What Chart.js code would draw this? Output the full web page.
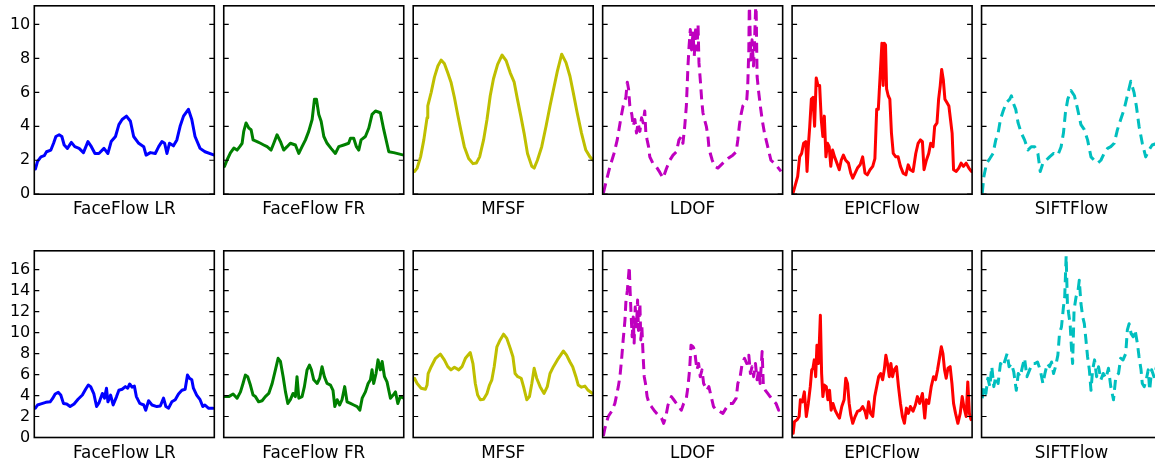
<!DOCTYPE html>
<html><head><meta charset="utf-8">
<script src="https://cdn.jsdelivr.net/npm/chart.js@4/dist/chart.umd.min.js"></script>
<style>
html,body{margin:0;padding:0;background:#fff;overflow:hidden;width:1155px;height:463px;position:relative}
canvas{position:absolute}
</style></head><body>
<script>
// ---- data: [frame (0-100), error] ----
const methods = ['FaceFlow LR','FaceFlow FR','MFSF','LDOF','EPICFlow','SIFTFlow'];
const colors = ['#0000ff','#008000','#bfbf00','#bf00bf','#ff0000','#00bfbf'];
const dashed = [false,false,false,true,false,true];
const rowMax = [11.1, 17.8];
const ticksTop = [0,2,4,6,8,10];
const ticksBottom = [0,2,4,6,8,10,12,14,16];

const lrTop = [[0.6,1.48],[1.8,1.93],[3.7,2.2],[5.5,2.27],[6.8,2.5],[9.2,2.6],[10.7,3.0],[12,3.4],[13.8,3.5],[15.3,3.4],[16.6,2.9],[18.4,2.7],[20.6,3.05],[22.5,2.8],[24.9,2.7],[27.3,2.45],[29.8,3.1],[31.7,2.8],[33.7,2.4],[35.9,2.4],[38.7,2.7],[40.9,2.4],[42.7,3.1],[45.1,3.4],[47,4.1],[48.8,4.4],[51.2,4.6],[53.4,4.3],[55.2,3.4],[58,3.0],[60.8,2.8],[62.1,2.3],[64.5,2.45],[67.2,2.4],[69.1,2.8],[70.9,3.1],[72.4,3.0],[73.7,2.4],[75.1,3.0],[77.3,2.85],[79.2,3.2],[81,4.0],[82.9,4.6],[85.6,5.0],[87.5,4.4],[89.3,3.4],[92.1,2.7],[94.8,2.5],[100,2.3]];
const frTop = [[0.4,1.64],[1.9,2.03],[3.7,2.43],[5.6,2.72],[7.4,2.6],[8.9,2.8],[10.2,3.0],[11.1,3.7],[12.4,4.2],[13.9,3.9],[15.2,3.8],[16.3,3.2],[18.5,3.1],[20.4,3.0],[22.2,2.9],[24.1,2.8],[26.3,2.6],[27.8,3.0],[29.6,3.5],[31.5,3.1],[33.3,2.6],[35.2,2.8],[37,3.0],[39.8,2.9],[41.7,2.4],[43.5,2.8],[45.4,3.2],[47.2,3.7],[49.1,4.4],[50.4,5.6],[51.5,5.6],[52.8,4.7],[54.1,4.3],[55.6,3.4],[57.4,3.0],[59.6,2.7],[62,2.4],[63.9,2.8],[66.7,2.9],[69.4,3.0],[70.4,3.3],[72.2,3.3],[73.7,2.8],[75,2.6],[76.3,3.2],[78.7,3.4],[80.6,3.9],[82.4,4.7],[84.3,4.9],[87,4.8],[88.9,3.8],[91.7,2.5],[94.4,2.45],[100,2.3]];
const mfsfTop = [[0.7,1.34],[2.2,1.54],[4.1,2.2],[5.9,3.2],[7.7,4.5],[8.1,5.2],[10,6.0],[11.8,6.9],[13.7,7.55],[15.5,7.9],[17.3,7.7],[19.2,7.15],[21,6.6],[22.9,5.7],[24.7,4.7],[26.6,3.7],[28.4,2.8],[30.8,2.1],[33.2,1.8],[35.1,1.84],[36.9,2.2],[39.1,3.2],[41,4.4],[42.8,5.8],[44.6,6.8],[46.9,7.65],[49.4,8.2],[51.7,7.85],[53.9,7.15],[56.1,6.6],[57.9,5.6],[59.8,4.6],[61.6,3.6],[63.5,2.4],[65.9,1.64],[67.2,1.54],[69,2.0],[71.4,2.8],[73.8,4.0],[76,5.2],[78.2,6.3],[80.1,7.25],[82.5,8.25],[84.9,7.75],[87.1,6.95],[88.9,6.0],[91.1,4.8],[93.5,3.6],[95.9,2.6],[98.2,2.2],[100,2.0]];
const ldofTop = [[0.4,0.06],[2.2,0.85],[4.1,1.64],[6.3,2.4],[8.1,3.2],[10,4.4],[11.4,5.2],[12.9,5.7],[13.7,6.6],[14.4,6.2],[15.1,5.2],[16.2,4.7],[17,4.0],[17.9,4.4],[18.8,3.6],[19.7,4.2],[20.7,3.7],[21.6,4.5],[22.5,4.2],[23.4,4.9],[24,3.6],[24.7,3.2],[25.5,2.8],[26.2,2.2],[28,1.8],[29.9,1.6],[31.7,1.3],[33.6,0.95],[35.4,1.5],[37.3,2.0],[39.1,2.3],[41,2.5],[42.4,3.2],[43.7,3.4],[44.6,3.0],[45.6,4.0],[46.5,5.2],[47.4,7.55],[48,8.7],[48.7,9.7],[49.4,8.5],[50.2,9.5],[50.9,8.15],[51.7,9.9],[52.4,8.5],[53,10.0],[53.5,7.75],[54.2,6.8],[55,5.6],[55.7,4.8],[56.6,4.4],[57.6,4.0],[58.5,3.4],[59,2.8],[59.8,2.4],[60.9,2.0],[62.2,1.64],[64,1.54],[66.8,1.83],[69.6,2.1],[72.3,2.3],[74.2,2.5],[75.1,3.2],[76,4.1],[76.9,4.7],[77.9,5.2],[79.3,5.4],[80.1,5.6],[80.6,6.4],[81.2,8.5],[81.5,11.5],[82.3,7.9],[83,9.1],[83.8,7.55],[84.3,8.7],[84.9,10.7],[85.2,11.5],[85.8,6.95],[86.7,6.0],[87.6,5.2],[88.6,4.4],[89.9,3.6],[91.7,2.8],[93.5,2.0],[96.3,1.73],[99.1,1.34]];
const epicTop = [[0.6,0.1],[1.8,0.55],[3.1,1.05],[4.2,2.2],[5.3,2.4],[6.4,3.0],[7.6,3.1],[8.3,1.34],[9,2.8],[9.8,4.0],[10.7,5.6],[11.6,5.7],[12.5,4.0],[13.4,6.85],[14.4,6.4],[15.3,6.4],[16.2,4.4],[17.1,3.4],[17.9,4.6],[18.8,2.2],[19.7,3.0],[20.6,2.8],[21.5,1.64],[22.5,2.6],[23.6,2.2],[24.9,1.83],[26.2,1.44],[27.3,2.0],[28.5,2.3],[29.8,2.0],[31.3,1.83],[32.6,1.24],[33.7,0.95],[35,1.24],[36.3,1.54],[37.8,1.73],[39.2,2.2],[40.5,1.24],[41.8,1.14],[43.3,1.44],[44.8,1.64],[46,2.1],[47,5.0],[47.9,5.0],[48.4,6.0],[49.2,7.55],[49.9,8.9],[50.6,6.4],[51.2,8.9],[51.9,8.8],[52.5,6.2],[53.4,5.8],[54.3,5.6],[55.2,3.6],[56.2,2.4],[57.6,2.2],[58.9,2.2],[60.2,1.64],[61.7,1.24],[63.2,1.14],[64.5,1.73],[65.7,1.44],[67.2,1.34],[68.7,2.4],[70,3.0],[71.3,3.2],[72.4,3.1],[73.3,1.44],[74.6,2.0],[75.9,2.4],[77,3.0],[78.3,2.8],[79.2,4.0],[80.5,4.2],[81.4,5.6],[82.3,6.4],[83.1,7.35],[84,6.75],[84.9,5.6],[86,5.4],[87.1,5.2],[88,4.4],[88.9,3.6],[89.7,1.44],[91.2,1.34],[92.6,1.54],[93.9,1.83],[95.2,1.64],[96.7,1.83],[98.2,1.54],[99.6,1.34]];
const siftTop = [[0.4,0.06],[1.3,1.05],[2.8,1.83],[4.6,2.1],[6.4,2.4],[7.9,3.2],[9.2,3.6],[10.5,4.4],[12,4.9],[13.8,5.4],[15.7,5.6],[16.6,5.8],[17.5,5.4],[19,5.0],[20.3,4.2],[22.1,3.6],[23.9,3.2],[25.8,2.6],[27.6,2.8],[29.5,2.8],[31.3,2.4],[32.6,1.34],[34.1,1.83],[35.9,2.0],[37.8,2.2],[40,2.4],[42.4,2.3],[44.2,2.8],[45.5,3.6],[46.6,4.8],[47.9,5.6],[49.7,6.1],[51.6,5.8],[53.4,5.0],[55.2,4.1],[57.1,3.8],[58.9,3.2],[60.8,2.2],[62.6,2.0],[64.5,1.83],[66.3,2.0],[68.1,2.4],[70,2.7],[71.8,2.8],[73.7,3.0],[75.5,3.8],[77.3,4.4],[79.2,5.0],[81,5.8],[82.9,6.65],[84.7,6.0],[86,5.2],[87.5,4.0],[89.3,3.0],[91.2,2.2],[93,2.6],[94.8,2.9],[97.6,3.0],[100,2.8]];

const lrBottom = [[0.6,2.8],[1.8,3.1],[3.7,3.2],[6.4,3.35],[8.8,3.4],[10.1,3.7],[11.6,4.15],[13.3,4.3],[14.7,4.05],[16.2,3.25],[18,3.2],[19.9,2.95],[22.1,3.2],[24.3,3.65],[26.7,4.05],[28.5,4.6],[30,5.0],[31.3,4.85],[33.1,4.15],[34.6,2.95],[35.9,3.3],[37.8,4.2],[39,3.75],[40.1,4.7],[40.9,3.4],[42.4,4.05],[43.8,3.1],[45.7,3.9],[47,4.5],[48.8,4.6],[50.6,4.85],[51.9,4.7],[53,5.1],[54.3,4.8],[55.6,4.9],[56.7,3.9],[58.6,3.25],[60.8,3.1],[61.9,2.6],[63.5,3.5],[65.4,3.1],[68.1,2.95],[70,3.0],[71.8,3.75],[73.1,2.95],[74.6,2.8],[76.4,3.4],[78.3,3.6],[80.1,4.15],[82,4.5],[83.8,4.6],[85.1,5.95],[86.2,5.65],[87.5,5.5],[88.4,4.7],[90.2,4.05],[92.1,3.6],[93.6,2.95],[94.8,3.1],[96.7,2.8],[99.4,2.8]];
const frBottom = [[0.4,3.9],[2.8,3.9],[5.2,4.15],[7.4,3.75],[9.3,4.35],[10.7,5.15],[12,5.95],[13.3,5.8],[14.8,5.0],[16.3,4.05],[17.6,3.9],[19.4,3.4],[21.3,3.5],[23.1,3.9],[25,4.2],[26.9,5.15],[28.7,6.45],[30.2,7.55],[31.5,7.25],[33,5.8],[34.3,4.35],[35.6,3.25],[37,3.6],[38.5,4.2],[39.8,3.9],[40.7,5.8],[41.7,3.75],[43.5,3.9],[44.8,4.85],[46.3,6.45],[47.6,6.9],[48.7,6.45],[50,5.5],[51.9,5.15],[53.3,5.65],[54.6,6.75],[55.9,5.8],[57.4,5.15],[59.3,5.0],[60.7,4.5],[61.7,2.95],[63,3.6],[64.4,3.1],[65.7,3.6],[67.2,4.85],[68.5,3.4],[70.4,3.25],[72.2,3.1],[74.1,2.95],[75.6,2.6],[76.9,3.75],[78.7,4.35],[80.2,5.15],[81.5,5.5],[82.4,6.45],[83.3,5.15],[84.6,6.1],[85.7,7.4],[87,6.45],[88,7.25],[89.3,5.8],[90.7,5.3],[92.6,3.75],[94.1,4.05],[95.4,4.35],[96.7,3.25],[98.1,3.9],[100,3.75]];
const mfsfBottom = [[0.7,5.65],[2.2,5.15],[4.4,4.7],[6.8,4.6],[7.7,5.0],[8.3,6.1],[10,6.75],[12.4,7.55],[15.1,7.95],[17.3,7.4],[19.2,6.75],[21,6.45],[22.9,6.7],[25.3,6.45],[27.1,6.75],[29,7.55],[31.7,8.1],[33.2,7.05],[34.5,5.15],[35.8,4.05],[37.3,3.6],[39.1,3.65],[41,4.2],[42.4,5.0],[43.7,5.5],[45,6.75],[46.5,8.65],[48.3,9.3],[50.2,9.85],[52,9.45],[53.9,8.5],[55.4,7.7],[56.6,6.1],[58.1,5.8],[60,5.65],[61.3,4.85],[63.1,3.6],[64.6,3.9],[65.9,5.15],[67.2,6.6],[68.6,5.65],[70.5,4.85],[72.7,4.2],[74.5,4.85],[76,6.1],[77.9,6.75],[80.1,7.4],[81.9,7.85],[83.4,8.25],[85.2,7.85],[87.1,7.2],[88.6,6.75],[90.4,5.8],[91.7,5.0],[93.5,4.8],[95.4,4.9],[97.2,4.5],[99.6,4.2]];
const ldofBottom = [[0.4,0.15],[1.3,0.9],[3.1,2.0],[5,2.5],[6.8,3.25],[8.7,4.85],[9.6,5.8],[10.5,7.4],[11.4,9.3],[12.4,11.2],[12.9,12.9],[13.7,14.0],[14.2,15.0],[14.8,16.3],[15.1,14.7],[15.7,12.1],[16.4,9.6],[17,11.5],[17.5,9.0],[18.1,12.45],[18.8,10.55],[19.4,13.1],[19.9,10.2],[20.7,12.8],[21.2,9.3],[21.8,10.55],[22.5,7.7],[23.1,5.8],[23.8,5.15],[24.7,3.9],[25.8,3.25],[27.1,2.95],[29,2.5],[30.8,2.15],[32.7,1.85],[33.9,1.35],[35.1,2.0],[36.3,3.1],[38.2,3.9],[39.5,3.6],[41,3.25],[42.4,2.95],[43.7,2.6],[45,3.25],[46.5,3.75],[47.4,4.85],[48.3,6.45],[49.1,8.8],[50.2,8.65],[51.1,8.35],[51.7,7.4],[52.4,6.45],[53.3,7.05],[54.2,5.8],[55.2,6.45],[56.1,5.15],[57,4.85],[57.9,4.5],[59,4.85],[60.3,3.9],[61.6,2.95],[63.1,2.6],[64.9,2.5],[66.8,2.3],[68.6,2.8],[70.5,3.25],[72.3,3.25],[74.2,3.75],[75.1,5.15],[76.4,5.8],[77.5,7.05],[78.8,7.55],[80.1,7.05],[81.2,7.85],[82.1,6.1],[83,6.75],[83.9,5.8],[84.9,7.05],[85.8,5.5],[86.7,6.45],[87.5,5.15],[88.6,8.2],[89.3,4.85],[90.4,4.5],[91.7,4.2],[93,3.9],[94.5,3.6],[96.3,3.25],[97.8,2.6],[99.6,2.8]];
const epicBottom = [[0.6,0.4],[1.3,1.5],[2.8,1.7],[3.9,2.0],[4.6,3.6],[5.7,3.4],[6.8,4.35],[7.9,2.0],[9,3.25],[10.1,4.85],[10.9,6.45],[11.6,6.6],[12.3,7.4],[13.1,5.8],[13.8,8.8],[14.7,7.05],[15.7,11.65],[16.4,6.1],[17.1,3.9],[17.9,5.0],[19,4.85],[19.9,3.6],[20.8,4.5],[21.7,2.6],[22.7,3.25],[23.9,2.6],[25.2,2.15],[26.3,1.85],[27.6,2.95],[28.9,3.6],[29.8,5.65],[30.8,5.15],[31.7,3.25],[32.6,2.15],[33.7,1.35],[35,2.0],[36.3,2.5],[37.8,2.6],[39.2,2.95],[40.5,2.5],[41.4,1.85],[42.5,3.4],[43.6,2.3],[44.8,2.0],[45.9,3.9],[47,4.85],[48.1,5.8],[49.2,6.1],[50.3,5.5],[51.2,6.45],[52.1,7.85],[53,7.05],[54,5.8],[54.9,7.05],[55.8,5.8],[56.7,6.45],[58,6.75],[59.1,4.85],[60.2,3.25],[61.3,2.0],[62.4,1.35],[63.5,2.8],[64.6,2.3],[65.7,2.95],[67.2,2.5],[68.5,3.1],[69.6,3.9],[70.9,3.25],[72.4,4.2],[73.7,1.85],[74.6,3.6],[75.9,3.25],[77.3,4.85],[78.6,5.8],[79.7,5.5],[80.8,6.45],[82,7.7],[82.9,8.65],[83.8,8.0],[84.7,6.45],[85.6,5.65],[86.6,6.6],[87.8,6.75],[88.8,5.15],[89.7,3.25],[90.8,2.3],[92.1,1.35],[93.4,2.3],[94.5,3.9],[95.4,2.95],[96.7,2.0],[97.6,5.3],[98.5,2.3],[99.4,1.7]];
const siftBottom = [[0.4,3.75],[1.3,4.85],[2.4,4.2],[3.5,5.65],[4.6,4.85],[5.7,6.75],[6.8,4.85],[7.9,5.8],[9.2,5.15],[10.5,7.05],[12,6.75],[13.1,7.4],[14.2,8.0],[15.3,6.75],[16.6,7.05],[17.9,6.25],[19.3,4.5],[20.4,6.1],[21.5,5.8],[22.7,6.75],[23.9,7.55],[25.2,5.8],[26.7,6.45],[28.2,7.05],[29.7,7.05],[31.1,7.2],[32.6,6.45],[34.1,5.15],[35.2,6.1],[36.5,7.05],[37.8,6.75],[38.9,7.2],[40,6.1],[41.1,6.75],[42.4,7.85],[43.3,9.9],[44.4,10.55],[45.5,12.45],[46.2,13.4],[47,17.3],[47.7,12.8],[48.4,11.8],[49.2,10.85],[49.9,8.65],[50.6,7.05],[51.4,12.15],[52.5,13.4],[53.6,14.0],[54.3,15.0],[55.2,12.8],[56.2,11.5],[57.1,10.85],[58,9.3],[58.9,7.7],[59.9,6.45],[60.8,4.5],[61.7,6.45],[62.8,7.4],[63.9,5.8],[65,6.75],[66.3,5.5],[67.6,6.1],[69.1,5.65],[70.5,6.6],[71.8,4.85],[73.3,3.6],[74.6,5.8],[76.1,6.1],[77.3,7.55],[78.6,7.4],[80.1,8.0],[81,10.25],[82,10.85],[83.1,9.9],[84.2,9.6],[85.3,10.25],[86.6,8.95],[87.5,7.7],[88.6,6.45],[89.3,5.15],[90.4,4.85],[91.5,5.5],[92.6,6.45],[93.4,4.5],[94.5,6.45],[95.8,5.8],[97.6,7.05],[99.4,8.0]];

const rows = [
  [lrTop, frTop, mfsfTop, ldofTop, epicTop, siftTop],
  [lrBottom, frBottom, mfsfBottom, ldofBottom, epicBottom, siftBottom]
];
const rowTicks = [ticksTop, ticksBottom];

// ---- layout ----
const FONT = 'DejaVu Sans';
Chart.defaults.font.family = FONT;
Chart.defaults.font.size = 16;
Chart.defaults.color = '#000';

const plotW = 180, colStep = 189.45, firstLeft = 34.3;
const plotTop = [5.8, 250.8], plotH = [188.4, 186.7];
const LPAD = 40, RPAD = 20, TPAD = 14, XH = 26;

const frame = {
  id: 'frame',
  afterDraw(chart) {
    const {ctx, chartArea: {left, right, top, bottom}} = chart;
    const ys = chart.scales.y;
    ctx.save();
    ctx.strokeStyle = '#000';
    ctx.lineWidth = 1.2;
    ctx.beginPath();
    ys.ticks.forEach(t => {
      const py = ys.getPixelForValue(t.value);
      ctx.moveTo(left, py); ctx.lineTo(left + 5, py);
      ctx.moveTo(right, py); ctx.lineTo(right - 5, py);
    });
    ctx.stroke();
    ctx.lineWidth = 1.6;
    ctx.strokeRect(left, top, right - left, bottom - top);
    ctx.restore();
  }
};

rows.forEach((series, r) => {
  series.forEach((pts, c) => {
    const PL = firstLeft + c * colStep;
    const PT = plotTop[r];
    const cl = Math.floor(PL) - LPAD;
    const ct = Math.floor(PT) - TPAD;
    const cw = LPAD + plotW + RPAD;
    const ch = Math.ceil(PT - ct + plotH[r] + XH) + 1;
    const cv = document.createElement('canvas');
    cv.width = cw; cv.height = ch;
    cv.style.left = cl + 'px'; cv.style.top = ct + 'px';
    cv.style.width = cw + 'px'; cv.style.height = ch + 'px';
    document.body.appendChild(cv);
    const leftW = PL - cl;
    const padR = cw - (PL + plotW - cl);
    const padT = PT - ct;
    const padB = ch - padT - plotH[r] - XH;
    new Chart(cv, {
      type: 'line',
      data: {
        datasets: [{
          data: pts.map(p => ({x: p[0], y: p[1]})),
          borderColor: colors[c],
          borderWidth: 3,
          borderDash: dashed[c] ? [10, 6] : [],
          borderJoinStyle: 'round',
          borderCapStyle: dashed[c] ? 'butt' : 'round',
          pointRadius: 0,
          tension: 0,
          fill: false,
          clip: 0
        }]
      },
      options: {
        responsive: false,
        animation: false,
        devicePixelRatio: 1,
        events: [],
        layout: {padding: {left: 0, right: padR, top: padT, bottom: padB}},
        plugins: {legend: {display: false}, tooltip: {enabled: false}},
        scales: {
          x: {
            type: 'linear', min: 0, max: 100,
            grid: {display: false, drawTicks: false},
            border: {display: false},
            ticks: {display: false},
            title: {display: true, text: methods[c], color: '#000', font: {family: FONT, size: 16.8}, padding: {top: 0, bottom: 0}},
            afterFit: s => { s.height = XH; s.paddingLeft = 0; s.paddingRight = 0; }
          },
          y: {
            type: 'linear', min: 0, max: rowMax[r],
            grid: {display: false, drawTicks: false},
            border: {display: false},
            ticks: {display: c === 0, padding: 4, color: '#000', font: {family: FONT, size: 16}, callback: v => String(v)},
            afterBuildTicks: s => { s.ticks = rowTicks[r].map(v => ({value: v})); },
            afterFit: s => { s.width = leftW; s.paddingTop = 0; s.paddingBottom = 0; }
          }
        }
      },
      plugins: [frame]
    });
  });
});
</script>
</body></html>
